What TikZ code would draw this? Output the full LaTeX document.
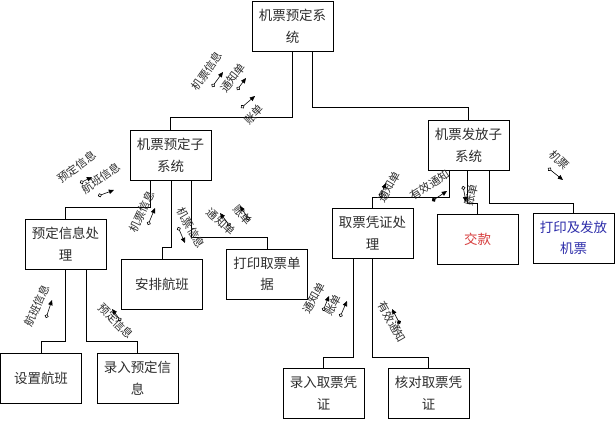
\documentclass[tikz,border=0pt]{standalone}
\usepackage{fontspec}
\newfontfamily\cjk{Noto Sans CJK SC}
\usetikzlibrary{arrows.meta,calc}
\definecolor{boxtext}{RGB}{45,45,45}
\definecolor{payred}{RGB}{215,60,60}
\definecolor{issueblue}{RGB}{45,45,170}
\tikzset{
  box/.style   ={rectangle, draw=black, line width=0.8pt, minimum width=2.43cm,
                 minimum height=1.5cm, align=center, inner sep=0pt,
                 font=\cjk\fontsize{11.5}{18.5}\selectfont, text=boxtext},
  tree/.style  ={draw=black, line width=0.8pt},
  lbl/.style   ={font=\cjk\fontsize{9.5}{10}\selectfont, inner sep=0pt, text=boxtext},
  couple/.style={{Circle[open,length=3.4pt]}-{Triangle[length=4.4pt,width=3.8pt]}, line width=0.5pt},
  flag/.style  ={{Circle[length=3.6pt]}-{Triangle[length=4.4pt,width=3.8pt]}, line width=0.5pt}
}
\begin{document}
\begin{tikzpicture}[x=0.03cm, y=-0.03cm]
\fill[white] (0,0) rectangle (616,420);
\useasboundingbox (0,0) rectangle (616,420);

% modules
\node[box] (sys)  at (292.5,26)  {机票预定系\\统};
\node[box] (rsv)  at (170.5,155) {机票预定子\\系统};
\node[box] (iss)  at (468.5,145) {机票发放子\\系统};
\node[box] (proc) at (65.5,244)  {预定信息处\\理};
\node[box] (arr)  at (162,284)   {安排航班};
\node[box] (prt)  at (267,274)   {打印取票单\\据};
\node[box] (tkp)  at (372.5,233) {取票凭证处\\理};
\node[box, text=payred] (pay) at (477.5,239) {交款};
\node[box, text=issueblue] (out) at (573.5,238) {打印及发放\\机票};
\node[box] (setf) at (41,378)    {设置航班};
\node[box] (inp)  at (137.5,378) {录入预定信\\息};
\node[box] (rec)  at (323.5,393) {录入取票凭\\证};
\node[box] (chk)  at (428.5,393) {核对取票凭\\证};

% calls
\draw[tree] (sys.south) -- ++(0,66) -| (rsv.north);
\draw[tree] ($(sys.south)+(19.5,0)$) -- ++(0,56) -| (iss.north);
\draw[tree] ($(rsv.south)+(-20.5,0)$) -- ++(0,27) -| (proc.north);
\draw[tree] ($(rsv.south)+(0.5,0)$) -- ++(0,67) -| (arr.north);
\draw[tree] ($(rsv.south)+(20.5,0)$) -- ++(0,57) -| (prt.north);
\draw[tree] ($(iss.south)+(-19.5,0)$) -- ++(0,27) -| (tkp.north);
\draw[tree] ($(iss.south)+(-1.5,0)$) -- ++(0,33) -| (pay.north);
\draw[tree] ($(iss.south)+(20.5,0)$) -- ++(0,33) -| (out.north);
\draw[tree] ($(tkp.south)+(-19.5,0)$) -- ++(0,99) -| (rec.north);
\draw[tree] ($(tkp.south)+(-0.5,0)$) -- ++(0,99) -| (chk.north);
\draw[tree] ($(proc.south)+(-0.5,0)$) -- ++(0,72) -| (setf.north);
\draw[tree] ($(proc.south)+(20.5,0)$) -- ++(0,72) -| (inp.north);

% data labels
\node[lbl, rotate=55]  (l1)  at (207,71)  {机票信息};
\node[lbl, rotate=52]  (l2)  at (233,78)  {通知单};
\node[lbl, rotate=45]  (l3)  at (254,115) {账单};
\node[lbl, rotate=37]  (l4)  at (77,167)  {预定信息};
\node[lbl, rotate=35]  (l5)  at (101,178) {航班信息};
\node[lbl, rotate=65]  (l6)  at (142,212) {机票信息};
\node[lbl, rotate=-60] (l7)  at (191,228) {机票信息};
\node[lbl, rotate=-43] (l8)  at (221,222) {通知单};
\node[lbl, rotate=-50] (l9)  at (243,215) {账单};
\node[lbl, rotate=59]  (l10) at (389,187) {通知单};
\node[lbl, rotate=33]  (l11) at (430,185) {有效通知};
\node[lbl, rotate=75]  (l12) at (471,195) {账单};
\node[lbl, rotate=-45] (l13) at (559,160) {机票};
\node[lbl, rotate=60]  (l14) at (314,298) {通知单};
\node[lbl, rotate=60]  (l15) at (333,305) {账单};
\node[lbl, rotate=-60] (l16) at (392,322) {有效通知};
\node[lbl, rotate=65]  (l17) at (37,306)  {航班信息};
\node[lbl, rotate=-45] (l18) at (116,321) {预定信息};

% couples and flags
\draw[couple] (212,87)  -- (223,72);
\draw[couple] (237,90)  -- (246,78);
\draw[couple] (241,108) -- (255,96);
\draw[couple] (80,183)  -- (92,177);
\draw[couple] (98,196)  -- (114,190);
\draw[couple] (148,225) -- (155,208);
\draw[couple] (178,227) -- (185,243);
\draw[couple] (230,226) -- (220,213);
\draw[couple] (249,220) -- (240,206);
\draw[couple] (380,197) -- (386,183);
\draw[flag]   (432,201) -- (447,191);
\draw[couple] (463,186) -- (466,202);
\draw[couple] (548,168) -- (563,180);
\draw[couple] (323,311) -- (329,296);
\draw[couple] (340,317) -- (347,301);
\draw[flag]   (400,324) -- (392,309);
\draw[couple] (46,318)  -- (52,300);
\draw[couple] (121,321) -- (112,309);
\end{tikzpicture}
\end{document}
